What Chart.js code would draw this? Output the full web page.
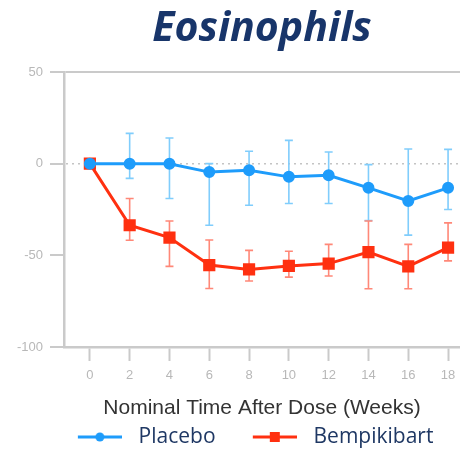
<!DOCTYPE html>
<html>
<head>
<meta charset="utf-8">
<script src="https://cdn.jsdelivr.net/npm/chart.js@4.4.1/dist/chart.umd.min.js"></script>
<style>
html,body{margin:0;padding:0;background:#fff;}
#wrap{width:460px;height:455px;}
</style>
</head>
<body>
<div id="wrap"><canvas id="c" width="460" height="455"></canvas></div>
<script>
// ---- data ----
const weeks = [0, 2, 4, 6, 8, 10, 12, 14, 16, 18];
const placebo = [0, 0, 0, -4.6, -3.6, -7.2, -6.3, -13.2, -20.3, -13.2];
const placeboHi = [0, 16.5, 14, 0, 6.8, 12.7, 6.4, -0.5, 8, 7.8];
const placeboLo = [0, -8, -19, -33.6, -22.7, -21.7, -21.7, -31, -39, -25];
const bempi = [0, -33.6, -40.3, -55.3, -57.7, -55.8, -54.5, -48.2, -56, -45.8];
const bempiHi = [0, -19, -31.3, -41.6, -47.3, -47.8, -44, -31.3, -44, -32.3];
const bempiLo = [0, -41.8, -56, -68.1, -64, -61.9, -61.3, -68.2, -68.2, -53];
const xTicks = [0, 2, 4, 6, 8, 10, 12, 14, 16, 18];
const yTicks = [-100, -50, 0, 50];

const BLUE = '#1e9cfb', BLUE_ERR = '#80cdfc';
const RED = '#ff3010', RED_ERR = '#ff8878';
const GRID = '#cacaca';

function legendIcon(color, square) {
  const L = 31;
  const c = document.createElement('canvas');
  c.width = 44 + L; c.height = 14;
  const g = c.getContext('2d');
  g.strokeStyle = color; g.lineWidth = 3;
  g.beginPath(); g.moveTo(L, 7); g.lineTo(L + 44, 7); g.stroke();
  g.fillStyle = color;
  if (square) { g.fillRect(L + 17, 2, 10, 10); }
  else { g.beginPath(); g.arc(L + 22, 7, 4.5, 0, Math.PI * 2); g.fill(); }
  return c;
}

const errorBars = {
  id: 'errorBars',
  beforeDatasetsDraw(chart) {
    const {ctx, scales: {x, y}} = chart;
    const sets = [
      {hi: placeboHi, lo: placeboLo, color: BLUE_ERR},
      {hi: bempiHi, lo: bempiLo, color: RED_ERR}
    ];
    ctx.save();
    ctx.strokeStyle = '#c4c4c4'; ctx.lineWidth = 1.5; ctx.setLineDash([2, 4]);
    const y0 = y.getPixelForValue(0);
    ctx.beginPath(); ctx.moveTo(chart.chartArea.left + 2, y0); ctx.lineTo(chart.chartArea.right, y0); ctx.stroke();
    ctx.setLineDash([]);
    sets.forEach(s => {
      ctx.strokeStyle = s.color; ctx.lineWidth = 1.6;
      weeks.forEach((w, i) => {
        if (s.hi[i] === s.lo[i]) return;
        const px = x.getPixelForValue(w);
        const t = y.getPixelForValue(s.hi[i]);
        const b = y.getPixelForValue(s.lo[i]);
        ctx.beginPath();
        ctx.moveTo(px, t); ctx.lineTo(px, b);
        ctx.moveTo(px - 4, t); ctx.lineTo(px + 4, t);
        ctx.moveTo(px - 4, b); ctx.lineTo(px + 4, b);
        ctx.stroke();
      });
    });
    ctx.restore();
  }
};

new Chart(document.getElementById('c'), {
  type: 'line',
  data: {
    datasets: [
      {
        label: 'Placebo',
        data: weeks.map((w, i) => ({x: w, y: placebo[i]})),
        borderColor: BLUE, backgroundColor: BLUE, borderWidth: 3,
        pointStyle: 'circle', pointRadius: 4.5, pointHoverRadius: 4.5,
        tension: 0
      },
      {
        label: 'Bempikibart',
        data: weeks.map((w, i) => ({x: w, y: bempi[i]})),
        borderColor: RED, backgroundColor: RED, borderWidth: 3,
        pointStyle: 'rect', pointRadius: 6.5, pointHoverRadius: 6.5,
        tension: 0
      }
    ]
  },
  options: {
    responsive: false,
    animation: false,
    events: [],
    layout: {autoPadding: false, padding: {left: 14, right: 0, top: 0, bottom: 0}},
    plugins: {
      title: {
        display: true,
        fullSize: false,
        text: 'Eosinophils',
        color: '#18356a',
        font: {family: 'Open Sans', size: 41, weight: 'bold', style: 'italic'},
        padding: {top: 4.5, bottom: 18.3}
      },
      legend: {
        position: 'bottom',
        maxHeight: 28.5,
        labels: {
          usePointStyle: true,
          pointStyleWidth: 87.5,
          boxHeight: 14,
          padding: 0,
          color: '#1f3864',
          font: {family: 'Open Sans', size: 21},
          generateLabels: (chart) => [
            {text: 'Placebo', pointStyle: legendIcon(BLUE, false), fillStyle: BLUE, strokeStyle: BLUE, lineWidth: 0, fontColor: '#1f3864', datasetIndex: 0},
            {text: 'Bempikibart', pointStyle: legendIcon(RED, true), fillStyle: RED, strokeStyle: RED, lineWidth: 0, fontColor: '#1f3864', datasetIndex: 1}
          ]
        }
      },
      tooltip: {enabled: false}
    },
    scales: {
      x: {
        type: 'linear',
        min: -1.3, max: 18.6,
        afterBuildTicks: s => { s.ticks = xTicks.map(v => ({value: v})); },
        afterFit: s => { s.height = 79.5; s.paddingLeft = 0; s.paddingRight = 0; },
        grid: {drawOnChartArea: false, drawTicks: true, tickLength: 14, tickColor: GRID, tickWidth: 2},
        border: {color: GRID, width: 2.5},
        ticks: {color: '#b8b8b8', font: {family: 'Liberation Sans', size: 13}, padding: 7, maxRotation: 0},
        title: {
          display: true,
          text: 'Nominal Time After Dose (Weeks)',
          color: '#333333',
          font: {family: 'Liberation Sans', size: 21},
          padding: {top: 6, bottom: 6}
        }
      },
      y: {
        min: -100, max: 50,
        afterBuildTicks: s => { s.ticks = yTicks.map(v => ({value: v})); },
        afterFit: s => { s.width = 50; },
        grid: {
          drawOnChartArea: true, drawTicks: true, tickLength: 14,
          color: c => (c.tick && c.tick.value === 50) ? GRID : 'rgba(0,0,0,0)',
          lineWidth: 2,
          tickColor: GRID, tickWidth: 2
        },
        border: {color: GRID, width: 2.5},
        ticks: {color: '#b8b8b8', font: {family: 'Liberation Sans', size: 13}, padding: 7}
      }
    }
  },
  plugins: [errorBars]
});
</script>
</body>
</html>
